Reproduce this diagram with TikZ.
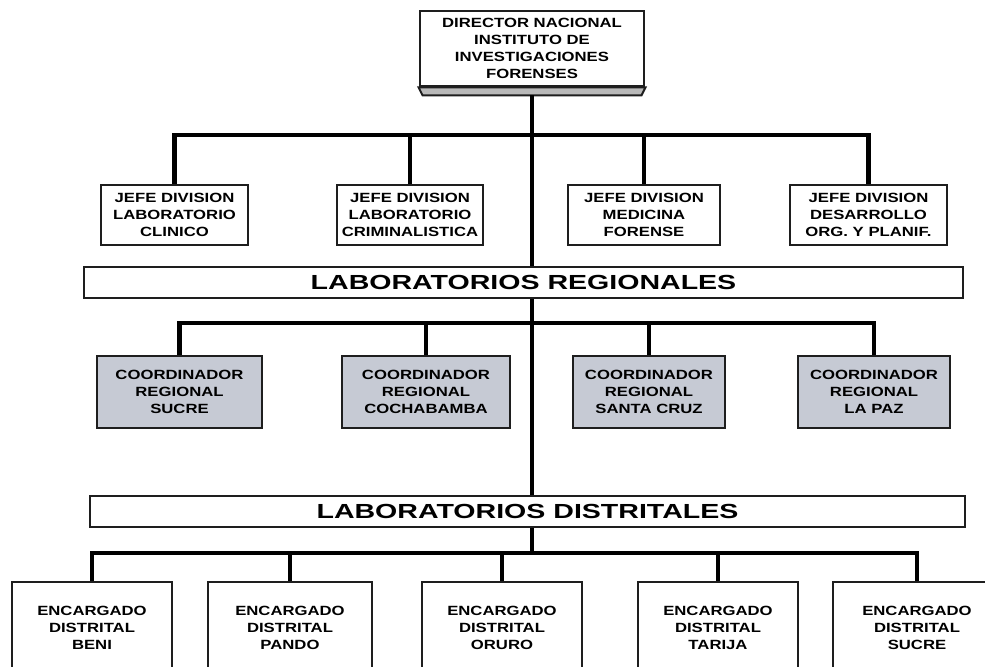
\documentclass[tikz,border=0pt]{standalone}
\usepackage{fontspec}
\setmainfont{Liberation Sans}[FakeStretch=1.25]
\newfontfamily\barfont{Liberation Sans}[FakeStretch=1.4]
\definecolor{coordgray}{RGB}{198,202,212}
\definecolor{linegray}{RGB}{30,30,30}
\begin{document}
\begin{tikzpicture}[x=0.025cm, y=-0.025cm,
    box/.style={rectangle, draw=linegray, line width=2pt, fill=white, inner sep=0pt,
        align=center, font=\bfseries\fontsize{9.5}{12}\selectfont},
    jefe/.style={box, minimum height=1.5cm},
    coord/.style={box, fill=coordgray, minimum height=1.8cm},
    encargado/.style={box, minimum width=4cm, minimum height=2.3cm},
    bar/.style={rectangle, draw=linegray, line width=1.2pt, fill=white, inner sep=0pt,
        minimum height=0.775cm, font=\barfont\bfseries\fontsize{14.5}{16}\selectfont},
    conn/.style={draw=black, line width=3pt}
]
    \clip (0,0) rectangle (985,666);
    \fill[white] (0,0) rectangle (985,666);

    \node[box, minimum width=5.6cm, minimum height=1.875cm] (dir) at (532,48.5)
        {DIRECTOR NACIONAL\\INSTITUTO DE\\INVESTIGACIONES\\FORENSES};
    \draw[linegray, line width=1.4pt, fill=gray!55] (dir.south west) -- (dir.south east)
        -- ([xshift=-1mm, yshift=-2mm]dir.south east) -- ([xshift=1mm, yshift=-2mm]dir.south west) -- cycle;

    \node[jefe, minimum width=3.675cm] (j1) at (174.5,215) {JEFE DIVISION\\LABORATORIO\\CLINICO};
    \node[jefe, minimum width=3.65cm] (j2) at (410,215) {JEFE DIVISION\\LABORATORIO\\CRIMINALISTICA};
    \node[jefe, minimum width=3.8cm] (j3) at (644,215) {JEFE DIVISION\\MEDICINA\\FORENSE};
    \node[jefe, minimum width=3.925cm] (j4) at (868.5,215) {JEFE DIVISION\\DESARROLLO\\ORG. Y PLANIF.};

    \node[bar, minimum width=21.975cm] (reg) at (523.5,282.5) {LABORATORIOS REGIONALES};

    \node[coord, minimum width=4.125cm] (c1) at (179.5,392) {COORDINADOR\\REGIONAL\\SUCRE};
    \node[coord, minimum width=4.2cm] (c2) at (426,392) {COORDINADOR\\REGIONAL\\COCHABAMBA};
    \node[coord, minimum width=3.8cm] (c3) at (649,392) {COORDINADOR\\REGIONAL\\SANTA CRUZ};
    \node[coord, minimum width=3.8cm] (c4) at (874,392) {COORDINADOR\\REGIONAL\\LA PAZ};

    \node[bar, minimum width=21.875cm] (dist) at (527.5,511.5) {LABORATORIOS DISTRITALES};

    \node[encargado] (e1) at (92,628) {ENCARGADO\\DISTRITAL\\BENI};
    \node[encargado, minimum width=4.1cm] (e2) at (290,628) {ENCARGADO\\DISTRITAL\\PANDO};
    \node[encargado] (e3) at (502,628) {ENCARGADO\\DISTRITAL\\ORURO};
    \node[encargado] (e4) at (718,628) {ENCARGADO\\DISTRITAL\\TARIJA};
    \node[encargado, minimum width=4.2cm] (e5) at (917,628) {ENCARGADO\\DISTRITAL\\SUCRE};

    % lineas de mando
    \coordinate (hj) at (532,135);
    \coordinate (hc) at (532,323);
    \coordinate (he) at (532,553);

    \draw[conn] ([yshift=-2mm]dir.south) -- (dir.south |- reg.north);
    \draw[conn] (dir.south |- reg.south) -- (dir.south |- dist.north);
    \draw[conn] (dir.south |- dist.south) -- (he);

    \draw[conn] (j1.north) |- (hj) -| (j4.north);
    \draw[conn] (j2.north) -- (j2.north |- hj);
    \draw[conn] (j3.north) -- (j3.north |- hj);

    \draw[conn] (c1.north) |- (hc) -| (c4.north);
    \draw[conn] (c2.north) -- (c2.north |- hc);
    \draw[conn] (c3.north) -- (c3.north |- hc);

    \draw[conn] (e1.north) |- (he) -| (e5.north);
    \draw[conn] (e2.north) -- (e2.north |- he);
    \draw[conn] (e3.north) -- (e3.north |- he);
    \draw[conn] (e4.north) -- (e4.north |- he);
\end{tikzpicture}
\end{document}
